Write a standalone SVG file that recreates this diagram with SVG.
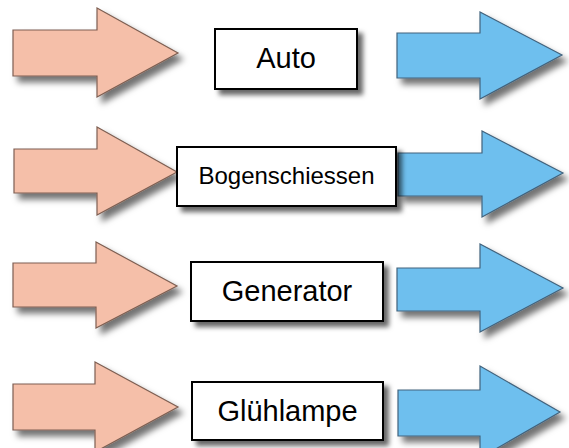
<svg xmlns="http://www.w3.org/2000/svg" width="569" height="448" viewBox="0 0 569 448">
  <style>
    .pink { fill: #F5BFA9; stroke: #7E5F52; stroke-width: 1.2; stroke-linejoin: miter; filter: url(#ashadow); }
    .blue { fill: #6EBFEE; stroke: #42637D; stroke-width: 1.2; stroke-linejoin: miter; filter: url(#ashadow); }
    .box { fill: #FFFFFF; stroke: #000000; stroke-width: 2; filter: url(#bshadow); }
    .lbl { font-family: "Liberation Sans", Arial, sans-serif; fill: #000000; text-anchor: middle; }
  </style>
  <defs>
    <filter id="ashadow" x="-20%" y="-30%" width="150%" height="170%">
      <feDropShadow dx="5" dy="6" stdDeviation="3" flood-color="#000000" flood-opacity="0.55"/>
    </filter>
    <filter id="bshadow" x="-20%" y="-30%" width="150%" height="170%">
      <feDropShadow dx="5" dy="5" stdDeviation="2.5" flood-color="#000000" flood-opacity="0.6"/>
    </filter>
  </defs>
  <rect width="569" height="448" fill="#FFFFFF"/>
  <g id="arrows">
    <polygon class="pink" points="13,30 97,30 97,8 178,53 97,97 97,76 13,76"/>
    <polygon class="blue" points="397,33 480,33 480,12 562,55 480,99 480,78 397,78"/>
    <polygon class="pink" points="14,149 97,149 97,127 177,172 97,215 97,193 14,193"/>
    <polygon class="blue" points="398,153 482,153 482,131 563,173 482,217 482,196 398,196"/>
    <polygon class="pink" points="13,263 96,263 96,242 177,286 96,328 96,307 13,307"/>
    <polygon class="blue" points="397,268 480,268 480,244 563,288 480,332 480,311 397,311"/>
    <polygon class="pink" points="13,384 95,384 95,362 178,407 95,452 95,430 13,430"/>
    <polygon class="blue" points="398,390 480,390 480,366 560,412 480,458 480,436 398,436"/>
  </g>
  <g id="node-auto">
    <rect class="box" x="215" y="29" width="142" height="60"/>
    <text class="lbl" x="286" y="68" font-size="29">Auto</text>
  </g>
  <g id="node-bogenschiessen">
    <rect class="box" x="177" y="147" width="219" height="59"/>
    <text class="lbl" x="286.5" y="184" font-size="24">Bogenschiessen</text>
  </g>
  <g id="node-generator">
    <rect class="box" x="191" y="262" width="192" height="59"/>
    <text class="lbl" x="287" y="301" font-size="29">Generator</text>
  </g>
  <g id="node-gluehlampe">
    <rect class="box" x="192" y="382" width="191" height="58"/>
    <text class="lbl" x="287.5" y="421" font-size="29">Glühlampe</text>
  </g>
</svg>
